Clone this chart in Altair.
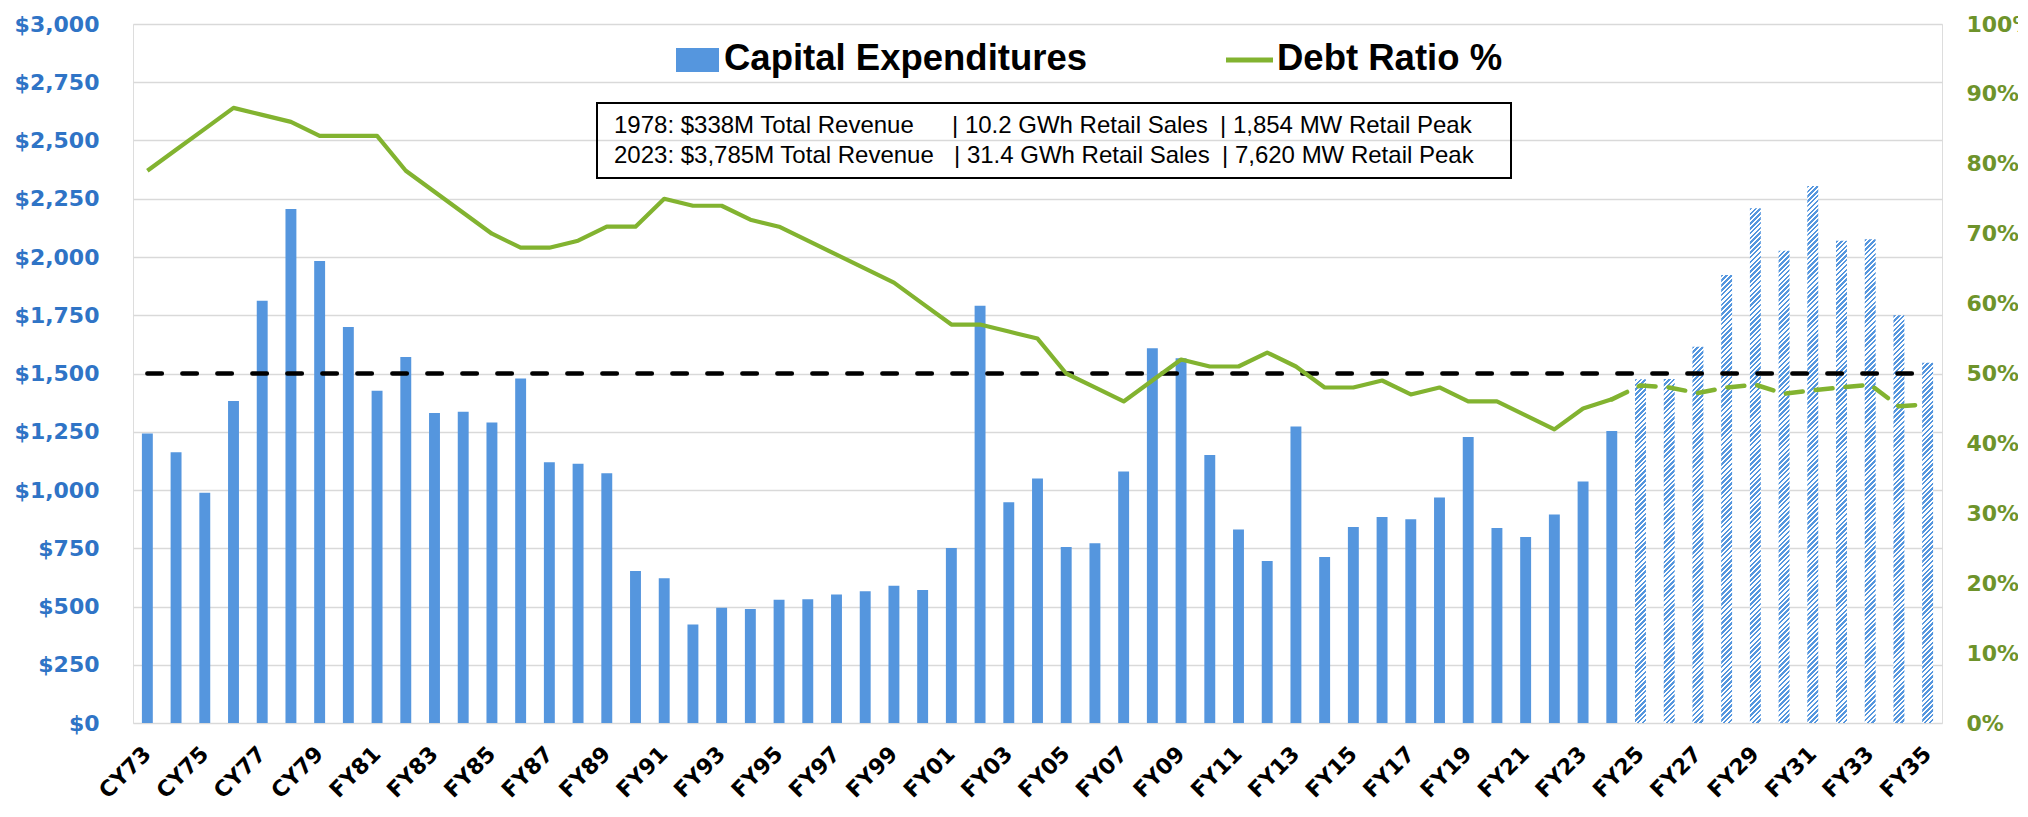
import math
import altair as alt
import pandas as pd

# ---------------- data ----------------
categories = [
    "CY73", "CY74", "CY75", "CY76", "CY77", "CY78", "CY79", "CY80",
    "FY81", "FY82", "FY83", "FY84", "FY85", "FY86", "FY87", "FY88", "FY89", "FY90",
    "FY91", "FY92", "FY93", "FY94", "FY95", "FY96", "FY97", "FY98", "FY99",
    "FY00", "FY01", "FY02", "FY03", "FY04", "FY05", "FY06", "FY07", "FY08", "FY09",
    "FY10", "FY11", "FY12", "FY13", "FY14", "FY15", "FY16", "FY17", "FY18", "FY19",
    "FY20", "FY21", "FY22", "FY23", "FY24", "FY25", "FY26", "FY27", "FY28", "FY29",
    "FY30", "FY31", "FY32", "FY33", "FY34", "FY35",
]

capex = [
    1243, 1162, 988, 1382, 1812, 2206, 1983, 1700,
    1426, 1571, 1330, 1336, 1290, 1479, 1119, 1113, 1072, 652,
    621, 423, 495, 489, 529, 531, 552, 565, 589,
    571, 751, 1791, 947, 1049, 755, 771, 1079, 1608, 1565,
    1150, 831, 695, 1272, 712, 841, 884, 875, 968, 1227,
    837, 798, 895, 1036, 1253, 1475, 1476, 1615, 1923, 2209,
    2027, 2305, 2070, 2076, 1750, 1546,
]

debt_ratio_pct = [
    79, 82, 85, 88, 87, 86, 84, 84,
    84, 79, 76, 73, 70, 68, 68, 69, 71, 71,
    75, 74, 74, 72, 71, 69, 67, 65, 63,
    60, 57, 57, 56, 55, 50, 48, 46, 49, 52,
    51, 51, 53, 51, 48, 48, 49, 47, 48, 46,
    46, 44, 42, 45, 46.3, 48.3, 48.0, 47.2, 48.0, 48.4,
    47.1, 47.6, 48.0, 48.4, 45.3, 45.6,
]

last_actual = "FY24"          # last actual year (solid)
forecast_cats = categories[categories.index(last_actual) + 1:]
threshold_capex = 1500        # dashed reference line ($1,500 = 50%)

legend_labels = ["Capital Expenditures", "Debt Ratio %"]
box_line1 = ["1978: $338M Total Revenue", "| 10.2 GWh Retail Sales", "| 1,854 MW Retail Peak"]
box_line2 = ["2023: $3,785M Total Revenue", "| 31.4 GWh Retail Sales", "| 7,620 MW Retail Peak"]

left_ticks = [0, 250, 500, 750, 1000, 1250, 1500, 1750, 2000, 2250, 2500, 2750, 3000]
right_ticks = [0, 0.1, 0.2, 0.3, 0.4, 0.5, 0.6, 0.7, 0.8, 0.9, 1.0]

# ---------------- styling ----------------
W, H = 1809, 699
P_INNER, P_OUTER = 0.62, 0.31
BLUE = "#5596DE"
GREEN = "#82B330"
LEFT_LABEL = "#2F74C6"
RIGHT_LABEL = "#6E932B"
AXIS_FONT = "DejaVu Sans"

n = len(categories)
idx_last = categories.index(last_actual)
df = pd.DataFrame({
    "cat": categories,
    "capex": capex,
    "ratio": [v / 100 for v in debt_ratio_pct],
    "idx": list(range(n)),
    "threshold": [threshold_capex] * n,
})

bandwidth = (1 - P_INNER) * W / (n - P_INNER + 2 * P_OUTER)


def hatch_gradient(value, pitch=3.4, color=BLUE):
    w = bandwidth
    h = value * H / 3000.0
    s = (w + h) / (w * w + h * h)
    periods = max(1, int(round((w + h) / (pitch * math.sqrt(2)))))
    stops = []
    for k in range(periods):
        a = k / periods
        b = (k + 0.52) / periods
        c = (k + 1) / periods
        stops += [
            {"offset": round(a, 5), "color": color},
            {"offset": round(b, 5), "color": color},
            {"offset": round(b, 5), "color": "#ffffff"},
            {"offset": round(c, 5), "color": "#ffffff"},
        ]
    return {"gradient": "linear", "x1": 0, "y1": 0,
            "x2": round(s * w, 6), "y2": round(s * h, 6), "stops": stops}


hatch_conditions = [
    {"test": f"datum.cat === '{c}'", "value": hatch_gradient(v)}
    for c, v in zip(categories, capex) if c in forecast_cats
]

x_enc = alt.X(
    "cat:N", sort=categories, title=None,
    scale=alt.Scale(paddingInner=P_INNER, paddingOuter=P_OUTER),
    axis=alt.Axis(values=categories[::2], labelAngle=-45, labelAlign="right",
                  labelBaseline="middle", labelPadding=27, labelFont=AXIS_FONT,
                  labelFontWeight="bold", labelFontSize=22, labelColor="#000000",
                  ticks=False, tickSize=0, domain=False, grid=False, labelOverlap=False),
)

base = alt.Chart(df)

bars = base.mark_bar().encode(
    x=x_enc,
    y=alt.Y("capex:Q", title=None,
            scale=alt.Scale(domain=[0, 3000], nice=False, zero=True),
            axis=alt.Axis(orient="left", values=left_ticks, format="$,.0f",
                          labelFont=AXIS_FONT, labelFontWeight="bold", labelFontSize=22,
                          labelColor=LEFT_LABEL, labelPadding=34, grid=True,
                          gridColor="#D9D9D9", gridWidth=1.5, ticks=False, tickSize=0,
                          domain=False, labelOverlap=False)),
    fill={"condition": hatch_conditions, "value": BLUE},
)

thresh = base.mark_line(color="#000000", strokeWidth=4.5, strokeDash=[14.5, 20.5],
                        strokeCap="round").encode(
    x=x_enc,
    y=alt.Y("threshold:Q", scale=alt.Scale(domain=[0, 3000], nice=False), axis=None),
)

ratio_solid = base.mark_line(color=GREEN, strokeWidth=4.2, strokeJoin="round").encode(
    x=x_enc,
    y=alt.Y("ratio:Q", title=None, scale=alt.Scale(domain=[0, 1], nice=False),
            axis=alt.Axis(orient="right", values=right_ticks, format=".0%",
                          labelFont=AXIS_FONT, labelFontWeight="bold", labelFontSize=22,
                          labelColor=RIGHT_LABEL, labelPadding=24, grid=False,
                          ticks=False, tickSize=0, domain=False, labelOverlap=False)),
).transform_filter(alt.datum.idx <= idx_last)

ratio_dash = base.mark_line(color=GREEN, strokeWidth=4.5, strokeDash=[17, 13],
                            strokeCap="round", strokeJoin="round").encode(
    x=x_enc,
    y=alt.Y("ratio:Q", scale=alt.Scale(domain=[0, 1], nice=False), axis=None),
).transform_filter(alt.datum.idx >= idx_last)

one = alt.Chart(pd.DataFrame({"k": [0]}))

leg_square = one.mark_rect(color=BLUE).encode(
    x=alt.value(543), x2=alt.value(586), y=alt.value(24), y2=alt.value(48))
leg_text1 = one.mark_text(text=legend_labels[0], align="left", baseline="alphabetic",
                          font="Liberation Sans", fontWeight="bold", fontSize=36.5,
                          color="#000000").encode(x=alt.value(591), y=alt.value(46))
leg_line = one.mark_rule(color=GREEN, strokeWidth=5).encode(
    x=alt.value(1093), x2=alt.value(1140), y=alt.value(36))
leg_text2 = one.mark_text(text=legend_labels[1], align="left", baseline="alphabetic",
                          font="Liberation Sans", fontWeight="bold", fontSize=36.5,
                          color="#000000").encode(x=alt.value(1144), y=alt.value(46))

box = one.mark_rect(fill="#ffffff", fillOpacity=0, stroke="#000000", strokeWidth=2).encode(
    x=alt.value(464), x2=alt.value(1378), y=alt.value(79), y2=alt.value(154))

box_texts = []
for line, ypos, xs in [(box_line1, 109.3, [481, 819, 1087]), (box_line2, 138.7, [481, 821, 1089])]:
    for seg, xpos in zip(line, xs):
        box_texts.append(
            one.mark_text(text=seg, align="left", baseline="alphabetic",
                          font="Liberation Sans", fontSize=24, color="#000000")
            .encode(x=alt.value(xpos), y=alt.value(ypos))
        )

chart = alt.layer(
    bars, thresh, ratio_solid, ratio_dash,
    leg_square, leg_text1, leg_line, leg_text2, box, *box_texts,
).resolve_scale(y="independent").properties(
    width=W, height=H,
    padding={"left": 125, "top": 16, "right": 76, "bottom": 81},
    autosize=alt.AutoSizeParams(type="none"),
    background="#ffffff",
).configure_view(stroke="transparent").configure(font="Liberation Sans")

chart.save("out.html", embed_options={"renderer": "svg", "actions": False})
